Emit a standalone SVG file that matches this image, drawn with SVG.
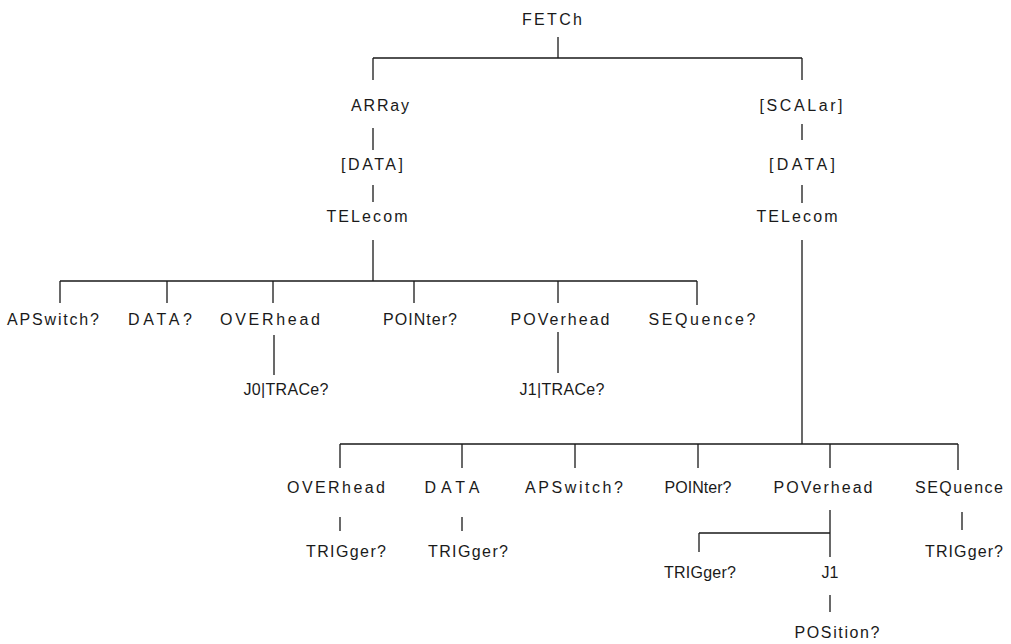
<svg xmlns="http://www.w3.org/2000/svg" width="1011" height="644" viewBox="0 0 1011 644">
<style>
text{font-family:"Liberation Sans","DejaVu Sans",sans-serif;font-size:16px;fill:#1a1a1a;text-anchor:middle}
.c path{stroke:#1a1a1a;stroke-width:1.3;fill:none}
</style>
<rect width="1011" height="644" fill="#fff"/>
<g class="c" id="connectors">
<path d="M558 37V58M373 58H802M373 58V80M802 58V80"/>
<path d="M373 128V150M802 124V140M373 185V202M802 185V203"/>
<path d="M373 240V281M802 240V444"/>
<path d="M60 281H697M60 281V303M167 281V303M273 281V303M414 281V303M558 281V303M697 281V305"/>
<path d="M274 335V375M558 332V373"/>
<path d="M340 444H958M340 444V468M462 444V468M575 444V468M698 444V468M830 444V468M958 444V470"/>
<path d="M340 517V531M462 517V531M962 512V530"/>
<path d="M830 510V557M699 533H830M699 533V552M830 595V612"/>
</g>
<g id="n-fetch"><text x="552" y="25" textLength="60">FETCh</text></g>
<g id="n-array"><text x="380" y="111" textLength="58">ARRay</text></g>
<g id="n-array-data"><text x="372" y="170" textLength="62">[DATA]</text></g>
<g id="n-array-tel"><text x="367" y="222" textLength="81">TELecom</text></g>
<g id="n-scalar"><text x="801" y="111" textLength="83">[SCALar]</text></g>
<g id="n-scalar-data"><text x="802" y="170" textLength="66">[DATA]</text></g>
<g id="n-scalar-tel"><text x="797" y="222" textLength="81">TELecom</text></g>
<g id="n-a-aps"><text x="53" y="325" textLength="92">APSwitch?</text></g>
<g id="n-a-data"><text x="160" y="325" textLength="64">DATA?</text></g>
<g id="n-a-over"><text x="270" y="325" textLength="100">OVERhead</text></g>
<g id="n-a-point"><text x="420" y="325" textLength="74">POINter?</text></g>
<g id="n-a-pover"><text x="560" y="325" textLength="99">POVerhead</text></g>
<g id="n-a-seq"><text x="702" y="325" textLength="107">SEQuence?</text></g>
<g id="n-a-j0"><text x="286" y="395" textLength="85">J0|TRACe?</text></g>
<g id="n-a-j1"><text x="562" y="395" textLength="85">J1|TRACe?</text></g>
<g id="n-s-over"><text x="336" y="493" textLength="98">OVERhead</text></g>
<g id="n-s-data"><text x="452" y="493" textLength="55">DATA</text></g>
<g id="n-s-aps"><text x="574" y="493" textLength="98">APSwitch?</text></g>
<g id="n-s-point"><text x="698" y="493" textLength="67">POINter?</text></g>
<g id="n-s-pover"><text x="823" y="493" textLength="99">POVerhead</text></g>
<g id="n-s-seq"><text x="959" y="493" textLength="88">SEQuence</text></g>
<g id="n-s-over-trig"><text x="346" y="557" textLength="80">TRIGger?</text></g>
<g id="n-s-data-trig"><text x="468" y="557" textLength="80">TRIGger?</text></g>
<g id="n-s-pover-trig"><text x="700" y="578" textLength="72">TRIGger?</text></g>
<g id="n-s-j1"><text x="830" y="578">J1</text></g>
<g id="n-s-pos"><text x="837" y="638" textLength="85">POSition?</text></g>
<g id="n-s-seq-trig"><text x="964" y="557" textLength="78">TRIGger?</text></g>
</svg>
